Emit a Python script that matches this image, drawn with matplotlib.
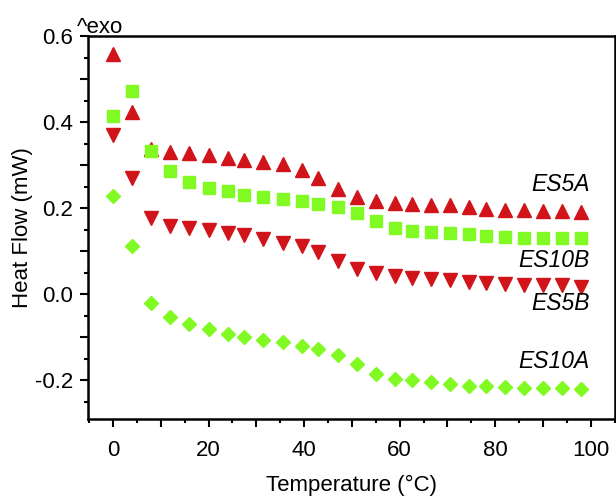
import matplotlib
matplotlib.use("Agg")
import matplotlib.pyplot as plt
from matplotlib.ticker import MultipleLocator

plt.rcParams['font.family'] = ['Liberation Sans', 'DejaVu Sans']

# Temperature (°C) of each measured point
temperature = [0, 4, 8, 12, 16, 20, 24, 27.5, 31.5, 35.5, 39.5, 43, 47,
               51, 55, 59, 62.5, 66.5, 70.5, 74.5, 78, 82, 86, 90, 94, 98]

# Heat flow (mW) for each sample
es5a = [0.558, 0.424, 0.338, 0.331, 0.329, 0.323, 0.318, 0.312, 0.307,
        0.302, 0.290, 0.271, 0.246, 0.226, 0.216, 0.213, 0.211, 0.207,
        0.207, 0.202, 0.199, 0.197, 0.195, 0.194, 0.194, 0.191]
es10b = [0.414, 0.472, 0.333, 0.286, 0.261, 0.248, 0.240, 0.232, 0.226,
         0.221, 0.217, 0.211, 0.203, 0.188, 0.171, 0.155, 0.147, 0.145,
         0.143, 0.140, 0.136, 0.133, 0.132, 0.131, 0.131, 0.131]
es5b = [0.370, 0.271, 0.177, 0.158, 0.154, 0.149, 0.143, 0.137, 0.128,
        0.119, 0.112, 0.098, 0.077, 0.060, 0.050, 0.042, 0.039, 0.036,
        0.034, 0.029, 0.026, 0.023, 0.021, 0.021, 0.022, 0.017]
es10a = [0.229, 0.112, -0.020, -0.053, -0.068, -0.081, -0.091, -0.099,
         -0.105, -0.111, -0.119, -0.126, -0.140, -0.163, -0.186, -0.196,
         -0.200, -0.204, -0.208, -0.212, -0.214, -0.216, -0.217, -0.218,
         -0.218, -0.219]

RED = "#d0141a"
GREEN = "#80fa22"

fig = plt.figure(figsize=(6.16, 4.96), dpi=100)
ax = fig.add_axes([0.143, 0.155, 0.855, 0.772])

ax.plot(temperature, es5a, linestyle="none", marker="^", ms=9.5, color=RED)
ax.plot(temperature, es10b, linestyle="none", marker="s", ms=8.5, color=GREEN)
ax.plot(temperature, es5b, linestyle="none", marker="v", ms=9.5, color=RED)
ax.plot(temperature, es10a, linestyle="none", marker="D", ms=7, color=GREEN)

# sample names next to the curves
labels = [("ES5A", 0.256), ("ES10B", 0.079), ("ES5B", -0.021), ("ES10A", -0.156)]
for name, y in labels:
    ax.text(99.8, y, name, ha="right", va="center", fontsize=16.5,
            style="italic")

ax.set_xlim(-5.2, 105)
ax.set_ylim(-0.29, 0.6)

ax.xaxis.set_minor_locator(MultipleLocator(5))
ax.yaxis.set_minor_locator(MultipleLocator(0.05))

# long ticks every 10 / 0.1, labels only every 20 / 0.2
xt = list(range(0, 101, 10))
ax.set_xticks(xt)
ax.set_xticklabels([str(t) if t % 20 == 0 else "" for t in xt])
yt = [-0.2, -0.1, 0.0, 0.1, 0.2, 0.3, 0.4, 0.5, 0.6]
ax.set_yticks(yt)
ax.set_yticklabels(["-0.2", "", "0.0", "", "0.2", "", "0.4", "", "0.6"])

ax.tick_params(which="major", direction="out", length=6, width=1.5,
               labelsize=16, pad=5)
ax.tick_params(which="minor", direction="out", length=3, width=1.5)
ax.tick_params(axis="x", which="major", pad=9)
for sp in ax.spines.values():
    sp.set_linewidth(1.8)

ax.set_xlabel("Temperature (°C)", fontsize=16, labelpad=10)
ax.set_ylabel("Heat Flow (mW)", fontsize=16, labelpad=1)

fig.text(0.125, 0.945, "^exo", fontsize=16, ha="left", va="center")

fig.savefig("out.png", dpi=100)
